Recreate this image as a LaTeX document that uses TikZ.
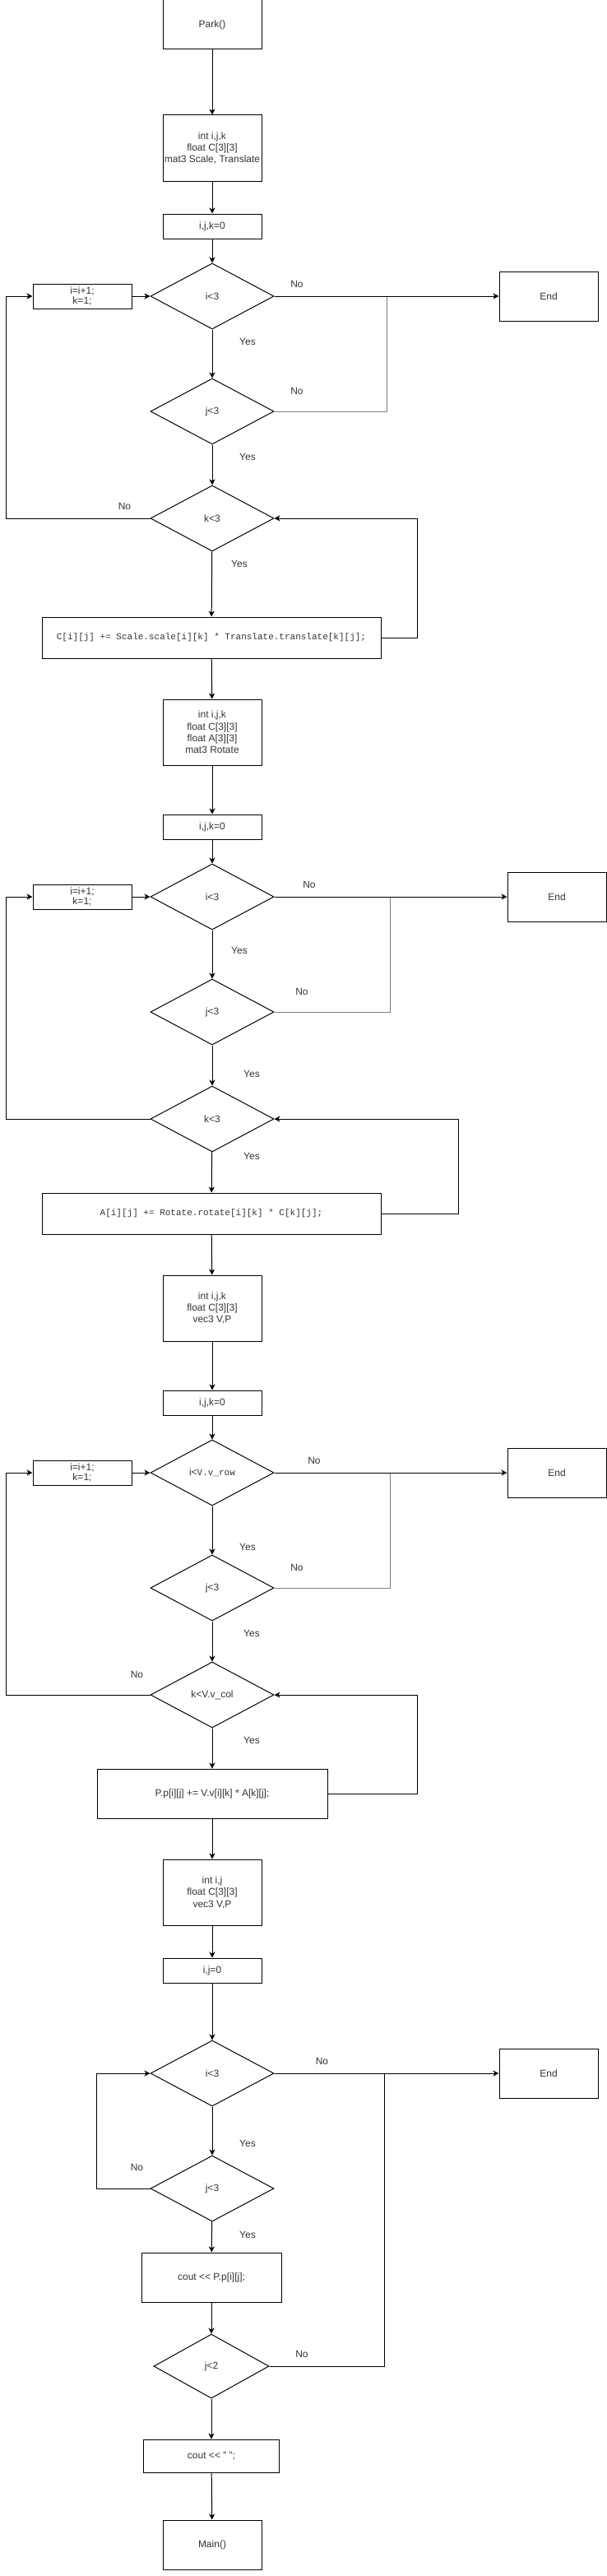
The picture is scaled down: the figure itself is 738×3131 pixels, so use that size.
\documentclass[tikz,border=0pt]{standalone}
\usepackage{fontspec}
\setmainfont{Liberation Sans}
\setmonofont{Liberation Mono}
\usetikzlibrary{shapes.geometric,arrows.meta}

\begin{document}
\begin{tikzpicture}[
          x=1pt, y=-1pt,
          every node/.style={font=\fontsize{12}{14.4}\selectfont, text=black!80},
          blk/.style={rectangle,draw,line width=1pt,inner sep=0pt,minimum width=120pt,minimum height=#1,align=center},
          blk/.default=30pt,
          cond/.style={diamond,draw,line width=1pt,inner sep=0pt,minimum width=150pt,minimum height=80pt},
          code/.style={font=\ttfamily\fontsize{11}{13}\selectfont},
          tight/.style={font=\fontsize{12}{12.7}\selectfont},
          link/.style={line width=1pt,-{Stealth[length=7pt,width=7pt,inset=2pt]}},
          mrg/.style={line width=1pt,gray},
          ans/.style={inner sep=0pt},
        ]
        \useasboundingbox (0,0) rectangle (738,3131);

        % first product: C = Scale * Translate
        \node[blk=60pt]  (park)  at (258, 30)   {Park()};
        \node[blk=80pt]  (decA)  at (258, 180)  {int i,j,k\\float C[3][3]\\mat3 Scale, Translate};
        \node[blk]       (initA) at (258, 275)  {i,j,k=0};
        \node[cond]      (diA)   at (258, 360)  {i<3};
        \node[blk,tight] (incA)  at (100, 360)  {i=i+1;\\k=1;};
        \node[blk=60pt]  (endA)  at (667, 360)  {End};
        \node[cond]      (djA)   at (258, 500)  {j<3};
        \node[cond]      (dkA)   at (258, 630)  {k<3};
        \node[blk=50pt,minimum width=412pt,code] (cA) at (257, 775) {C[i][j] += Scale.scale[i][k] * Translate.translate[k][j];};
        \node[ans] (nA1) at (361, 345)   {No};
        \node[ans] (yA1) at (301, 415)   {Yes};
        \node[ans] (nA2) at (361, 475)   {No};
        \node[ans] (yA2) at (301, 555)   {Yes};
        \node[ans] (nA3) at (151.5, 615) {No};
        \node[ans] (yA3) at (291, 685)   {Yes};
        \draw[mrg] (djA.east) -- ++(137,0) -- ++(0,-140);
        \draw[link] (park) -- (decA);
        \draw[link] (decA) -- (initA);
        \draw[link] (initA) -- (diA);
        \draw[link] (diA) -- (djA);
        \draw[link] (djA) -- (dkA);
        \draw[link] (dkA) -- (cA);
        \draw[link] (diA.east) -- (endA.west);
        \draw[link] (incA.east) -- (diA.west);
        \draw[link] (dkA.west) -- ++(-175.5,0) |- (incA.west);
        \draw[link] (cA.east) -- ++(44,0) |- (dkA.east);

        % second product: A = Rotate * C
        \node[blk=80pt]  (decB)  at (258, 890)  {int i,j,k\\float C[3][3]\\float A[3][3]\\mat3 Rotate};
        \node[blk]       (initB) at (258, 1005) {i,j,k=0};
        \node[cond]      (diB)   at (258, 1090) {i<3};
        \node[blk,tight] (incB)  at (100, 1090) {i=i+1;\\k=1;};
        \node[blk=60pt]  (endB)  at (677, 1090) {End};
        \node[cond]      (djB)   at (258, 1230) {j<3};
        \node[cond]      (dkB)   at (258, 1360) {k<3};
        \node[blk=50pt,minimum width=412pt,code] (aB) at (257, 1475) {A[i][j] += Rotate.rotate[i][k] * C[k][j];};
        \node[ans] (nB1) at (376, 1075) {No};
        \node[ans] (yB1) at (291, 1155) {Yes};
        \node[ans] (nB2) at (367, 1205) {No};
        \node[ans] (yB2) at (306, 1305) {Yes};
        \node[ans] (yB3) at (306, 1405) {Yes};
        \draw[mrg] (djB.east) -- ++(141,0) -- ++(0,-140);
        \draw[link] (cA) -- (decB);
        \draw[link] (decB) -- (initB);
        \draw[link] (initB) -- (diB);
        \draw[link] (diB) -- (djB);
        \draw[link] (djB) -- (dkB);
        \draw[link] (dkB) -- (aB);
        \draw[link] (diB.east) -- (endB.west);
        \draw[link] (incB.east) -- (diB.west);
        \draw[link] (dkB.west) -- ++(-175.5,0) |- (incB.west);
        \draw[link] (aB.east) -- ++(94,0) |- (dkB.east);

        % third product: P = V * A
        \node[blk=80pt]  (decC)  at (258, 1590) {int i,j,k\\float C[3][3]\\vec3 V,P};
        \node[blk]       (initC) at (258, 1705) {i,j,k=0};
        \node[cond]      (diC)   at (258, 1790) {i<{\ttfamily\fontsize{11}{13}\selectfont V.v\_row}};
        \node[blk,tight] (incC)  at (100, 1790) {i=i+1;\\k=1;};
        \node[blk=60pt]  (endC)  at (677, 1790) {End};
        \node[cond]      (djC)   at (258, 1930) {j<3};
        \node[cond]      (dkC)   at (258, 2060) {k<V.v\_col};
        \node[blk=60pt,minimum width=280pt] (pC) at (258, 2180) {P.p[i][j] += V.v[i][k] * A[k][j];};
        \node[ans] (nC1) at (382, 1775)   {No};
        \node[ans] (yC1) at (301, 1880)   {Yes};
        \node[ans] (nC2) at (361, 1905)   {No};
        \node[ans] (yC2) at (306, 1985)   {Yes};
        \node[ans] (nC3) at (166.5, 2035) {No};
        \node[ans] (yC3) at (306, 2115)   {Yes};
        \draw[mrg] (djC.east) -- ++(141,0) -- ++(0,-140);
        \draw[link] (aB) -- (decC);
        \draw[link] (decC) -- (initC);
        \draw[link] (initC) -- (diC);
        \draw[link] (diC) -- (djC);
        \draw[link] (djC) -- (dkC);
        \draw[link] (dkC) -- (pC);
        \draw[link] (diC.east) -- (endC.west);
        \draw[link] (incC.east) -- (diC.west);
        \draw[link] (dkC.west) -- ++(-175.5,0) |- (incC.west);
        \draw[link] (pC.east) -- ++(109,0) |- (dkC.east);

        % printing P
        \node[blk=80pt]  (decD)  at (258, 2300) {int i,j\\float C[3][3]\\vec3 V,P};
        \node[blk]       (initD) at (258, 2395) {i,j=0};
        \node[cond]      (diD)   at (258, 2520) {i<3};
        \node[blk=60pt]  (endD)  at (667, 2520) {End};
        \node[cond]      (djD)   at (258, 2660) {j<3};
        \node[blk=60pt,minimum width=170pt] (outA) at (257, 2768) {cout <\kern0pt< P.p[i][j];};
        \node[cond,minimum width=140pt,minimum height=78pt] (djE) at (257, 2876) {j<2};
        \node[blk=40pt,minimum width=165pt] (outB) at (257, 2985) {cout <\kern0pt< " ";};
        \node[blk=60pt]  (mainD) at (258, 3093) {Main()};
        \node[ans] (nD1) at (391.5, 2505) {No};
        \node[ans] (yD1) at (301, 2605)   {Yes};
        \node[ans] (nD2) at (166.5, 2634) {No};
        \node[ans] (yD2) at (301, 2716)   {Yes};
        \node[ans] (nD3) at (367, 2861)   {No};
        \draw[line width=1pt] (djE.east) -- ++(140,0) -- ++(0,-356);
        \draw[link] (pC) -- (decD);
        \draw[link] (decD) -- (initD);
        \draw[link] (initD) -- (diD);
        \draw[link] (diD) -- (djD);
        \draw[link] (djD) -- (outA);
        \draw[link] (outA) -- (djE);
        \draw[link] (djE) -- (outB);
        \draw[link] (outB) -- (mainD);
        \draw[link] (diD.east) -- (endD.west);
        \draw[link] (djD.west) -- ++(-65.5,0) |- (diD.west);
      \end{tikzpicture}
\end{document}
